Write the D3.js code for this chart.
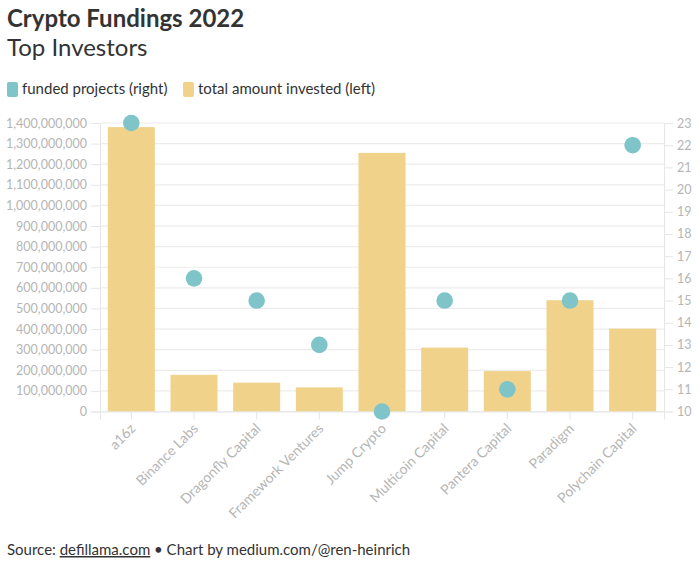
<!DOCTYPE html>
<html><head><meta charset="utf-8">
<script src="https://cdn.jsdelivr.net/npm/d3@7"></script>
<style>
body{margin:0;background:#fff;font-family:Lato,"Noto Sans",sans-serif;}
</style></head>
<body><svg id="c" width="700" height="563"></svg>
<script>
const investors = ["a16z","Binance Labs","Dragonfly Capital","Framework Ventures","Jump Crypto","Multicoin Capital","Pantera Capital","Paradigm","Polychain Capital"];
const amountInvested = [1380000000,178000000,140000000,117000000,1255000000,310000000,196000000,540000000,402000000];
const fundedProjects = [23,16,15,13,10,15,11,15,22];
const leftTicks = [0,100e6,200e6,300e6,400e6,500e6,600e6,700e6,800e6,900e6,1000e6,1100e6,1200e6,1300e6,1400e6];
const rightTicks = [10,11,12,13,14,15,16,17,18,19,20,21,22,23];

const svg = d3.select("#c");
const L = 100, R = 664, T = 123, B = 411.5;
const x = d3.scaleBand().domain(investors).range([L,R]).paddingInner(0.25).paddingOuter(0.125);
const yL = d3.scaleLinear().domain([0,1400e6]).range([B,T]);
const yR = d3.scaleLinear().domain([10,23]).range([B,T]);
const fmt = d3.format(",");

// grid
svg.append("g").selectAll("line").data(leftTicks).join("line")
  .attr("x1",L).attr("x2",R).attr("y1",d=>yL(d)).attr("y2",d=>yL(d))
  .attr("stroke","#ececec").attr("stroke-width",1.2);

// left axis
const gl = svg.append("g").attr("transform",`translate(${L},0)`)
  .call(d3.axisLeft(yL).tickValues(leftTicks).tickFormat(fmt).tickSize(9).tickPadding(4));
gl.select(".domain").attr("stroke","#e6e6e6");
gl.selectAll(".tick line").attr("stroke","#e6e6e6");
gl.selectAll("text").attr("fill","#b5b5b5").style("font-size","12.5px").style("font-family","Lato,sans-serif");

// right axis
const gr = svg.append("g").attr("transform",`translate(${R},0)`)
  .call(d3.axisRight(yR).tickValues(rightTicks).tickSize(9).tickPadding(4));
gr.select(".domain").attr("stroke","#e6e6e6");
gr.selectAll(".tick line").attr("stroke","#e6e6e6");
gr.selectAll("text").attr("fill","#b5b5b5").style("font-size","12.5px").style("font-family","Lato,sans-serif");

// bars
svg.append("g").selectAll("rect").data(investors).join("rect")
  .attr("x",d=>x(d)).attr("width",x.bandwidth())
  .attr("y",(d,i)=>yL(amountInvested[i])).attr("height",(d,i)=>B-yL(amountInvested[i]))
  .attr("fill","#f0d28b");

// bottom axis
const gb = svg.append("g").attr("transform",`translate(0,${B})`)
  .call(d3.axisBottom(x).tickSize(8).tickPadding(4));
gb.select(".domain").attr("stroke","#e6e6e6");
gb.selectAll(".tick line").attr("stroke","#e6e6e6");
gb.selectAll("text").attr("fill","#b5b5b5").style("font-size","14px").style("font-family","Lato,sans-serif")
  .attr("text-anchor","end").attr("x",0).attr("y",0).attr("dy",0)
  .attr("transform","translate(5,18) rotate(-45)");

// dots
svg.append("g").selectAll("circle").data(investors).join("circle")
  .attr("cx",d=>x(d)+x.bandwidth()/2).attr("cy",(d,i)=>yR(fundedProjects[i])).attr("r",8.3)
  .attr("fill","#7ec4c8");

// titles
svg.append("text").attr("x",7).attr("y",27).text("Crypto Fundings 2022")
  .attr("fill","#333").style("font-size","24px").style("font-weight","700");
svg.append("text").attr("x",7).attr("y",56).text("Top Investors")
  .attr("fill","#333").style("font-size","24px");

// legend
const lg = svg.append("g").attr("transform","translate(7,82)");
lg.append("rect").attr("x",0).attr("y",0).attr("width",11).attr("height",15).attr("rx",2).attr("fill","#7ec4c8");
lg.append("text").attr("x",15).attr("y",12).text("funded projects (right)").attr("fill","#333").style("font-size","15px");
lg.append("rect").attr("x",176).attr("y",0).attr("width",11).attr("height",15).attr("rx",2).attr("fill","#f0d28b");
lg.append("text").attr("x",191).attr("y",12).text("total amount invested (left)").attr("fill","#333").style("font-size","15px");

// footer
const ft = svg.append("text").attr("x",7).attr("y",555).attr("fill","#333").style("font-size","15px");
ft.append("tspan").text("Source: ");
ft.append("tspan").text("defillama.com").style("text-decoration","underline");
ft.append("tspan").text(" • Chart by medium.com/@ren-heinrich");
</script></body></html>
